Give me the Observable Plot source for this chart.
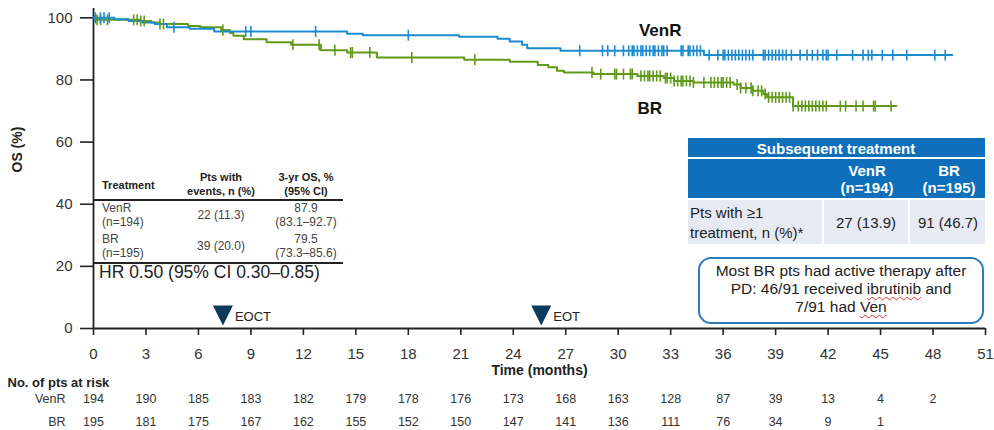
<!DOCTYPE html>
<html><head><meta charset="utf-8">
<script src="https://cdn.jsdelivr.net/npm/d3@7"></script>
<script src="https://cdn.jsdelivr.net/npm/@observablehq/plot@0.6"></script>
<style>
body{margin:0;background:#fff;font-family:"Liberation Sans",Arial,sans-serif;}
#wrap{position:relative;width:994px;height:430px;overflow:hidden;}
.t{position:absolute;white-space:nowrap;line-height:1;}
.box{position:absolute;box-sizing:border-box;}
.sp{text-decoration:underline wavy #e03030;text-decoration-thickness:1px;text-underline-offset:2px;}
</style></head><body><div id="wrap"></div>
<script>
// ---- Data ----
const venrTimes = [0, 1.2, 2.0, 2.8, 3.5, 4.2, 5.5, 6.9, 14.5, 15.4, 20.9, 23.1, 23.8, 24.5, 24.8, 26.7, 34.9, 49.1];
const venrSurv  = [100, 99.5, 99.0, 98.5, 98.0, 97.0, 96.5, 95.6, 94.9, 94.4, 93.9, 93.3, 92.4, 91.3, 90.2, 89.4, 88.0, 88.0];
const brTimes = [0, 0.2, 2.7, 3.3, 3.8, 5.4, 6.1, 7.3, 7.8, 8.0, 8.6, 9.9, 11.3, 13.0, 14.5, 16.2, 21.2, 23.8, 25.4, 26.0, 26.5, 26.9, 28.6, 31.1, 32.6, 33.2, 34.3, 36.6, 37.0, 37.7, 38.3, 38.5, 40.0, 45.9];
const brSurv  = [100, 99.4, 99.0, 98.5, 98.0, 97.4, 97.0, 96.1, 95.1, 94.2, 93.1, 92.1, 91.3, 89.6, 88.8, 87.2, 86.5, 85.9, 84.8, 84.1, 83.0, 82.4, 81.9, 81.3, 80.6, 79.7, 79.2, 78.5, 77.4, 76.5, 75.5, 74.4, 71.6, 71.6];
const venrCensor = [0.1,0.4,0.6,0.9,4.6,8.7,9.0,12.7,18.0,27.8,29.1,29.4,29.8,30.3,30.6,30.8,30.9,31.1,31.3,31.4,31.6,31.8,32.0,32.1,32.3,32.5,32.6,32.8,
  33.6,33.7,34.0,34.1,34.3,34.5,34.7,35.2,35.7,36.0,36.1,36.3,36.5,36.7,36.9,37.1,37.3,37.5,37.7,38.3,38.4,38.6,38.8,39.0,39.2,39.4,39.6,39.9,40.4,40.8,41.1,41.4,41.7,41.9,42.0,42.5,43.4,44.0,44.3,44.5,45.1,45.7,46.5,48.1,48.7];
const brCensor = [0.2,0.4,0.8,2.3,2.5,2.7,2.9,3.8,4.0,7.4,11.4,12.9,13.8,14.7,14.8,15.8,18.2,21.8,28.5,29.0,29.8,29.9,30.3,30.7,30.8,31.3,31.5,31.7,31.8,32.0,32.2,32.4,32.7,
  32.8,33.0,33.2,33.4,33.6,33.7,33.9,34.1,34.3,34.9,35.3,35.5,35.7,35.9,36.0,36.2,36.4,36.8,37.0,37.3,37.6,37.7,38.0,38.2,38.4,38.6,38.8,39.0,39.2,39.4,39.6,39.8,40.0,40.3,40.5,40.7,40.9,41.1,41.3,41.5,41.7,41.9,42.7,43.0,43.6,44.0,44.6,44.7,45.6];
const riskTimes = [0,3,6,9,12,15,18,21,24,27,30,33,36,39,42,45,48];
const venrRisk = [194,190,185,183,182,179,178,176,173,168,163,128,87,39,13,4,2];
const brRisk   = [195,181,175,167,162,155,152,150,147,141,136,111,76,34,9,1];
const xTicks = d3.range(0, 52, 3);
const yTicks = [0, 20, 40, 60, 80, 100];
const markerLabels = ["EOCT", "EOT"];
const markerTimes = [7.4, 25.6];
const groupNames = ["VenR", "BR"];
const groupNs = ["(n=194)", "(n=195)"];
const eventsText = ["22 (11.3)", "39 (20.0)"];
const os3Text = ["87.9", "79.5"];
const ciText = ["(83.1–92.7)", "(73.3–85.6)"];
const hrText = "HR 0.50 (95% CI 0.30–0.85)";
const subseqText = ["27 (13.9)", "91 (46.7)"];

const BLUE = "#1a8bd0", GREEN = "#609a17";

// ---- Build ----
const surv = (T, S, t) => S[d3.bisectRight(T, t) - 1];
const venrLine = venrTimes.map((t, i) => ({t, s: venrSurv[i]}));
const brLine = brTimes.map((t, i) => ({t, s: brSurv[i]}));
const venrC = venrCensor.map(t => ({t, s: surv(venrTimes, venrSurv, t)}));
const brC = brCensor.map(t => ({t, s: surv(brTimes, brSurv, t)}));
const venrR = riskTimes.map((t, i) => ({t, n: venrRisk[i]})).filter(d => d.n != null);
const brR = riskTimes.map((t, i) => ({t, n: brRisk[i]})).filter(d => d.n != null);
const markers = markerLabels.map((label, i) => ({label, t: markerTimes[i]}));

const vbar = {draw(ctx, size) { const h = Math.sqrt(size / Math.PI); ctx.moveTo(0, -h); ctx.lineTo(0, h); }};
const tri = {draw(ctx, size) { const s = Math.sqrt(size / Math.PI); ctx.moveTo(-s, -s); ctx.lineTo(s, -s); ctx.lineTo(0, s); ctx.closePath(); }};

const chart = Plot.plot({
  width: 994, height: 430,
  marginLeft: 93, marginRight: 9, marginTop: 8, marginBottom: 102,
  style: {fontFamily: "Liberation Sans, Arial, sans-serif", background: "#fff", overflow: "visible"},
  x: {domain: [0, 51]},
  y: {domain: [0, 103]},
  marks: [
    Plot.axisY({ticks: yTicks, tickSize: 13, tickPadding: 8, fontSize: 15, label: null, stroke: "#222", fill: "#333", strokeWidth: 1.6}),
    Plot.axisX({ticks: xTicks, tickSize: 7, tickPadding: 13, fontSize: 15, label: null, stroke: "#222", fill: "#333", strokeWidth: 1.6}),
    Plot.ruleY([0], {stroke: "#222", strokeWidth: 1.8}),
    Plot.ruleX([0], {stroke: "#222", strokeWidth: 1.8}),
    Plot.line(brLine, {x: "t", y: "s", curve: "step-after", stroke: GREEN, strokeWidth: 2}),
    Plot.line(venrLine, {x: "t", y: "s", curve: "step-after", stroke: BLUE, strokeWidth: 2}),
    Plot.dot(brC, {x: "t", y: "s", symbol: vbar, r: 5.5, stroke: GREEN, fill: "none", strokeWidth: 1.6}),
    Plot.dot(venrC, {x: "t", y: "s", symbol: vbar, r: 5.5, stroke: BLUE, fill: "none", strokeWidth: 1.6}),
    Plot.text([groupNames[0]], {x: 32.4, y: 95.9, text: d => d, fontSize: 17, fontWeight: "bold", fill: "#111"}),
    Plot.text([groupNames[1]], {x: 31.8, y: 70.8, text: d => d, fontSize: 17, fontWeight: "bold", fill: "#111"}),
    Plot.dot(markers, {x: "t", y: () => 0, dy: -13, symbol: tri, r: 10, fill: "#0b3a5b", stroke: "none"}),
    Plot.text(markers, {x: "t", y: () => 0, text: "label", dx: 12, dy: -12, textAnchor: "start", fontSize: 13, fill: "#222"}),
    Plot.text(["Time (months)"], {frameAnchor: "bottom", text: d => d, dy: 46, fontSize: 14, fontWeight: "bold", fill: "#222"}),
    Plot.text(["OS (%)"], {frameAnchor: "left", text: d => d, dx: -76, dy: 4, rotate: -90, fontSize: 14, fontWeight: "bold", fill: "#222"}),
    Plot.text(["No. of pts at risk"], {frameAnchor: "bottom-left", text: d => d, dx: -86, dy: 58, textAnchor: "start", fontSize: 13, fontWeight: "bold", fill: "#222"}),
    Plot.text([groupNames[0]], {frameAnchor: "bottom-left", text: d => d, dx: -28, dy: 74, textAnchor: "end", fontSize: 12.5, fill: "#333"}),
    Plot.text([groupNames[1]], {frameAnchor: "bottom-left", text: d => d, dx: -28, dy: 97, textAnchor: "end", fontSize: 12.5, fill: "#333"}),
    Plot.text(venrR, {x: "t", text: "n", frameAnchor: "bottom", dy: 74, fontSize: 12.5, fill: "#333"}),
    Plot.text(brR, {x: "t", text: "n", frameAnchor: "bottom", dy: 97, fontSize: 12.5, fill: "#333"})
  ]
});
const wrap = document.getElementById("wrap");
wrap.appendChild(chart);

function txt(str, x, y, o = {}) {
  const d = document.createElement("div");
  d.className = "t";
  if (o.html) d.innerHTML = str; else d.textContent = str;
  d.style.left = x + "px"; d.style.top = y + "px";
  const a = o.anchor || "start";
  const tx = a === "middle" ? "-50%" : a === "end" ? "-100%" : "0";
  d.style.transform = `translate(${tx},-50%)`;
  d.style.fontSize = (o.size || 12) + "px";
  d.style.fontWeight = o.bold ? "bold" : "normal";
  d.style.color = o.color || "#222";
  if (o.align) d.style.textAlign = o.align;
  if (o.lh) d.style.lineHeight = o.lh + "px";
  wrap.appendChild(d);
  return d;
}
function box(x, y, w, h, css) {
  const d = document.createElement("div");
  d.className = "box";
  Object.assign(d.style, {left: x + "px", top: y + "px", width: w + "px", height: h + "px"}, css);
  wrap.appendChild(d);
  return d;
}

// Left table
txt("Treatment", 102, 185, {size: 11, bold: true});
txt("Pts with", 221, 177, {size: 11, bold: true, anchor: "middle"});
txt("events, n (%)", 221, 191, {size: 11, bold: true, anchor: "middle"});
txt("3-yr OS, %", 306, 177, {size: 11, bold: true, anchor: "middle"});
txt("(95% CI)", 306, 191, {size: 11, bold: true, anchor: "middle"});
box(93, 198.5, 250, 2, {background: "#222"});
groupNames.forEach((g, i) => {
  const y0 = 208 + i * 31;
  txt(g, 102, y0, {size: 12, color: "#444"});
  txt(groupNs[i], 102, y0 + 14, {size: 12, color: "#444"});
  txt(eventsText[i], 221, y0 + 7, {size: 12, color: "#444", anchor: "middle"});
  txt(os3Text[i], 306, y0, {size: 12, color: "#444", anchor: "middle"});
  txt(ciText[i], 306, y0 + 14, {size: 12, color: "#444", anchor: "middle"});
});
box(93, 262, 250, 2, {background: "#222"});
txt(hrText, 99, 273, {size: 17.5, color: "#222"});

// Right table
const HB = "#0f6fba";
box(688, 138, 297, 19, {background: HB});
box(688, 159, 297, 39, {background: HB});
box(688, 200, 134, 44, {background: "#e7eaf2"});
box(824, 200, 84, 44, {background: "#e7eaf2"});
box(910, 200, 75, 44, {background: "#e7eaf2"});
txt("Subsequent treatment", 836, 148, {size: 15, bold: true, color: "#fff", anchor: "middle"});
txt(groupNames[0], 867, 170, {size: 15, bold: true, color: "#fff", anchor: "middle"});
txt(groupNs[0], 867, 187, {size: 15, bold: true, color: "#fff", anchor: "middle"});
txt(groupNames[1], 949, 170, {size: 15, bold: true, color: "#fff", anchor: "middle"});
txt(groupNs[1], 949, 187, {size: 15, bold: true, color: "#fff", anchor: "middle"});
txt("Pts with ≥1", 690, 212, {size: 15});
txt("treatment, n (%)*", 690, 232, {size: 15});
txt(subseqText[0], 866, 222, {size: 15, anchor: "middle"});
txt(subseqText[1], 948, 222, {size: 15, anchor: "middle"});

// Annotation box
box(698, 257, 286, 67, {border: "2.5px solid #2f7cc0", borderRadius: "13px", background: "#fff"});
txt('Most BR pts had active therapy after<br>PD: 46/91 received <span class="sp">ibrutinib</span> and<br>7/91 had <span class="sp">Ven</span>',
  841, 289, {html: true, size: 15.5, anchor: "middle", align: "center", lh: 18});
</script></body></html>
